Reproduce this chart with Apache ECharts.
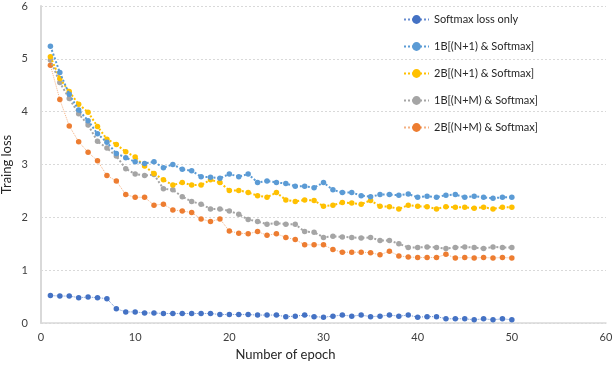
<!DOCTYPE html>
<html>
<head>
<meta charset="utf-8">
<script src="https://cdn.jsdelivr.net/npm/echarts@6/dist/echarts.min.js"></script>
<style>html,body{margin:0;padding:0;background:#fff}#c{width:613px;height:373px}</style>
</head>
<body>
<div id="c"></div>
<script>
const epochs = Array.from({length: 50}, (_, i) => i + 1);
const seriesNames = ['Softmax loss only', '1B[(N+1) & Softmax]', '2B[(N+1) & Softmax]', '1B[(N+M) & Softmax]', '2B[(N+M) & Softmax]'];
const softmaxOnly = [0.52,0.51,0.51,0.48,0.49,0.48,0.46,0.27,0.21,0.21,
  0.19,0.19,0.18,0.18,0.18,0.18,0.18,0.18,0.16,0.16,
  0.16,0.16,0.15,0.15,0.15,0.12,0.13,0.15,0.12,0.11,
  0.13,0.15,0.13,0.15,0.12,0.13,0.15,0.13,0.15,0.11,
  0.12,0.12,0.08,0.08,0.08,0.06,0.08,0.06,0.08,0.06];
const b1N1 = [5.24,4.74,4.33,4.03,3.83,3.58,3.42,3.21,3.13,3.05,
  3.02,3.05,2.94,3.00,2.91,2.88,2.77,2.76,2.74,2.82,
  2.77,2.82,2.66,2.69,2.66,2.64,2.59,2.59,2.56,2.66,
  2.52,2.47,2.47,2.41,2.39,2.43,2.43,2.42,2.44,2.38,
  2.40,2.38,2.42,2.43,2.38,2.40,2.38,2.36,2.38,2.38];
const b2N1 = [5.04,4.63,4.38,4.14,3.99,3.72,3.48,3.38,3.24,3.14,
  2.97,2.83,2.71,2.61,2.66,2.61,2.61,2.71,2.66,2.51,
  2.51,2.47,2.41,2.38,2.47,2.33,2.30,2.33,2.32,2.21,
  2.23,2.28,2.27,2.25,2.32,2.21,2.20,2.16,2.23,2.21,
  2.20,2.16,2.20,2.19,2.19,2.17,2.19,2.16,2.19,2.19];
const b1NM = [4.98,4.55,4.25,3.96,3.75,3.44,3.31,3.16,2.92,2.82,
  2.79,2.81,2.54,2.52,2.39,2.30,2.25,2.16,2.16,2.12,
  2.06,1.96,1.92,1.87,1.89,1.87,1.87,1.73,1.72,1.62,
  1.64,1.63,1.62,1.61,1.62,1.56,1.56,1.50,1.43,1.43,
  1.44,1.43,1.41,1.43,1.44,1.43,1.41,1.44,1.43,1.43];
const b2NM = [4.88,4.23,3.73,3.43,3.23,3.07,2.79,2.69,2.43,2.38,
  2.38,2.23,2.25,2.14,2.12,2.09,1.97,1.92,1.97,1.74,
  1.70,1.69,1.73,1.66,1.69,1.62,1.58,1.48,1.48,1.48,
  1.39,1.34,1.34,1.34,1.33,1.29,1.36,1.27,1.25,1.24,
  1.24,1.24,1.30,1.23,1.24,1.23,1.24,1.23,1.24,1.23];
const xTitle = 'Number of epoch';
const yTitle = 'Traing loss';

const FONT = 'Lato';
const colors = ['#4472c4', '#5b9bd5', '#ffc000', '#a5a5a5', '#ed7d31'];
const widths = [1, 2, 2, 2, 1];
const opac = [0.8, 1, 1, 1, 0.6];
const allData = [softmaxOnly, b1N1, b2N1, b1NM, b2NM];

const chart = echarts.init(document.getElementById('c'), null, {renderer: 'canvas'});
chart.setOption({
  animation: false,
  textStyle: {fontFamily: FONT},
  grid: {left: 41, right: 7, top: 6, bottom: 50, containLabel: false, outerBoundsMode: 'none'},
  legend: {
    orient: 'vertical', left: 398, top: 9, itemGap: 16,
    itemWidth: 25, itemHeight: 11,
    textStyle: {fontFamily: FONT, fontSize: 11, color: '#262626'},
    data: seriesNames
  },
  xAxis: {
    type: 'value', min: 0, max: 60, interval: 10,
    name: xTitle, nameLocation: 'middle', nameGap: 25, nameMoveOverlap: false,
    nameTextStyle: {fontFamily: FONT, fontSize: 13, color: '#262626', padding: [0, 76, 0, 0]},
    axisLine: {show: true, lineStyle: {color: '#d9d9d9', width: 1.5}},
    axisTick: {show: false},
    axisLabel: {fontFamily: FONT, fontSize: 11, color: '#404040', margin: 9},
    splitLine: {show: false}
  },
  yAxis: {
    type: 'value', min: 0, max: 6, interval: 1,
    name: yTitle, nameLocation: 'middle', nameGap: 28, nameRotate: 90, nameMoveOverlap: false,
    nameTextStyle: {fontFamily: FONT, fontSize: 13, color: '#262626'},
    axisLine: {show: true, lineStyle: {color: '#d9d9d9', width: 2}},
    axisTick: {show: false},
    axisLabel: {fontFamily: FONT, fontSize: 11, color: '#404040', margin: 13},
    splitLine: {show: true, lineStyle: {color: '#d9d9d9', type: [2, 2], width: 1}}
  },
  series: seriesNames.map((name, i) => ({
    name: name,
    type: 'line',
    data: epochs.map((e, j) => [e, allData[i][j]]),
    symbol: 'circle',
    symbolSize: 5.5,
    itemStyle: {color: colors[i]},
    lineStyle: {color: colors[i], width: widths[i], type: 'dotted', opacity: opac[i]},
    z: 10 - i
  }))
});
</script>
</body>
</html>
